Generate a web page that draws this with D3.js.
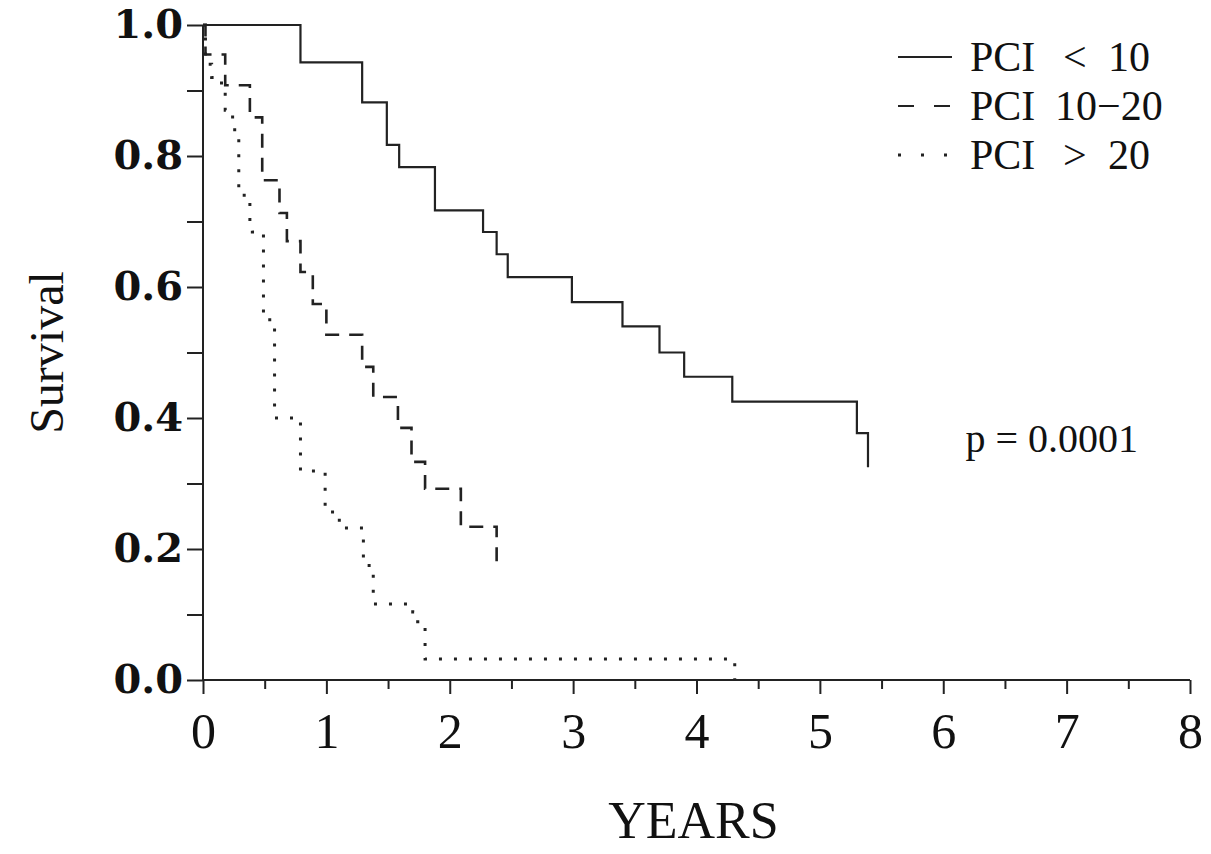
<!DOCTYPE html>
<html>
<head>
<meta charset="utf-8">
<script src="https://cdn.jsdelivr.net/npm/d3@7"></script>
<style>
  body { margin: 0; background: #fff; }
  text { font-family: "Liberation Serif", "DejaVu Serif", serif; fill: #111; }
</style>
</head>
<body>
<div id="graph1"></div>
<script>

// PCI < 10
var lowTimes = [0, 0.79, 1.29, 1.49, 1.59, 1.88, 2.27, 2.38, 2.47, 2.99, 3.40, 3.70, 3.90, 4.29, 5.30, 5.39];
var lowSurv  = [1.0, 0.943, 0.882, 0.817, 0.783, 0.717, 0.684, 0.650, 0.615, 0.577, 0.540, 0.500, 0.463, 0.425, 0.377, 0.325];

// PCI 10-20
var midTimes = [0, 0.02, 0.18, 0.38, 0.48, 0.62, 0.68, 0.79, 0.89, 1.0, 1.29, 1.38, 1.58, 1.69, 1.80, 2.09, 2.38];
var midSurv  = [1.0, 0.955, 0.908, 0.859, 0.763, 0.713, 0.67, 0.623, 0.574, 0.527, 0.478, 0.432, 0.385, 0.333, 0.292, 0.234, 0.175];

// PCI > 20
var highTimes = [0, 0.02, 0.07, 0.15, 0.18, 0.24, 0.29, 0.38, 0.40, 0.49, 0.58, 0.79, 0.99, 1.05, 1.13, 1.30, 1.38, 1.70, 1.74, 1.80, 4.31];
var highSurv  = [1.0, 0.94, 0.92, 0.90, 0.87, 0.84, 0.74, 0.70, 0.684, 0.55, 0.40, 0.319, 0.26, 0.244, 0.232, 0.175, 0.116, 0.104, 0.089, 0.032, 0.0];

var xTicks = [0, 1, 2, 3, 4, 5, 6, 7, 8];
var yTicks = [0, 0.2, 0.4, 0.6, 0.8, 1.0];
var legendRows = [["PCI", "<", "10"], ["PCI", "10\u221220", ""], ["PCI", ">", "20"]];
var pText = "p = 0.0001";

var margin1 = {top: 25, right: 21, bottom: 174, left: 203};
var width1 = 1211 - margin1.left - margin1.right;
var height1 = 854 - margin1.top - margin1.bottom;

var svg1 = d3.select("#graph1")
  .append("svg")
    .attr("width", 1211)
    .attr("height", 854)
  .append("g")
    .attr("transform", "translate(" + margin1.left + "," + margin1.top + ")");

var x1 = d3.scaleLinear().domain([0, 8]).range([0, width1]);
var y1 = d3.scaleLinear().domain([0, 1]).range([height1, 0]);

// x axis, major + half-year minor ticks
var xAxis = svg1.append("g")
  .attr("transform", "translate(0," + height1 + ")")
  .call(d3.axisBottom(x1).tickValues(xTicks).tickSize(14).tickPadding(6).tickFormat(d3.format("d")));
svg1.append("g")
  .attr("transform", "translate(0," + height1 + ")")
  .call(d3.axisBottom(x1).tickValues(d3.range(0.5, 8, 1)).tickSize(9).tickFormat(""))
  .select(".domain").remove();
xAxis.selectAll("text")
  .style("font-family", "Liberation Serif")
  .style("font-size", "50px")
  .attr("dy", "0.95em");

// y axis, major + minor ticks
var yAxis = svg1.append("g")
  .call(d3.axisLeft(y1).tickValues(yTicks).tickSize(16).tickPadding(4).tickFormat(d3.format(".1f")));
svg1.append("g")
  .call(d3.axisLeft(y1).tickValues([0.1, 0.3, 0.5, 0.7, 0.9]).tickSize(16).tickFormat(""))
  .select(".domain").remove();
yAxis.selectAll("text")
  .style("font-family", "DejaVu Serif")
  .style("font-size", "40px")
  .style("font-weight", "bold");

svg1.selectAll(".domain, .tick line")
  .attr("stroke", "#222")
  .attr("stroke-width", 2);
svg1.selectAll(".domain").attr("d", function() {
  return d3.select(this.parentNode).attr("transform") ? "M0,0H" + width1 : "M0,0V" + height1;
});

var line1 = d3.line()
  .curve(d3.curveStepAfter)
  .x(function(d) { return x1(d[0]); })
  .y(function(d) { return y1(d[1]); });

var series = [
  {t: lowTimes, s: lowSurv, dash: null, w: 2.2},
  {t: midTimes, s: midSurv, dash: "14,10", w: 2.6},
  {t: highTimes, s: highSurv, dash: "3,12", w: 3}
];

series.forEach(function(ser) {
  svg1.append("path")
    .datum(d3.zip(ser.t, ser.s))
    .attr("fill", "none")
    .attr("stroke", "#222")
    .attr("stroke-width", ser.w)
    .attr("stroke-dasharray", ser.dash)
    .attr("d", line1);
});

// legend
var legend = svg1.append("g").attr("transform", "translate(695,32)");
legendRows.forEach(function(row, i) {
  var gy = i * 49;
  legend.append("line")
    .attr("x1", 0).attr("x2", 54)
    .attr("y1", gy).attr("y2", gy)
    .attr("stroke", "#222")
    .attr("stroke-width", i == 2 ? 3 : 2.2)
    .attr("stroke-dasharray", series[i].dash == null ? null : (i == 1 ? "16,20" : "3,20"));
  var t = legend.append("text")
    .attr("y", gy + 14)
    .style("font-size", "42px");
  t.append("tspan").attr("x", 72).text(row[0]);
  if (i == 1) {
    t.append("tspan").attr("x", 157).text(row[1]);
  } else {
    t.append("tspan").attr("x", 165).text(row[1]);
    t.append("tspan").attr("x", 210).text(row[2]);
  }
});

svg1.append("text")
  .attr("x", width1 - 52)
  .attr("y", 427)
  .attr("text-anchor", "end")
  .style("font-size", "40px")
  .text(pText);

svg1.append("text")
  .attr("x", x1(4) - 3)
  .attr("y", height1 + 158)
  .attr("text-anchor", "middle")
  .style("font-size", "52px")
  .text("YEARS");

svg1.append("text")
  .attr("transform", "translate(" + (-140) + "," + (y1(0.5)) + ") rotate(-90)")
  .attr("text-anchor", "middle")
  .style("font-size", "48px")
  .text("Survival");

</script>
</body>
</html>
